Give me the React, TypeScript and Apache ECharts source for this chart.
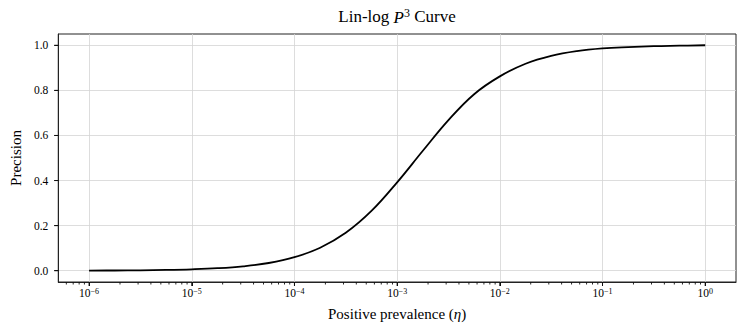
import React, { useEffect, useRef } from "react";
import * as echarts from "echarts";

// Positive prevalence (eta) values
const etaValues = [
  1e-6, 1.78e-6, 3.16e-6, 5.62e-6,
  1e-5, 1.78e-5, 3.16e-5, 5.62e-5,
  1e-4, 1.78e-4, 3.16e-4, 5.62e-4,
  1e-3, 1.78e-3, 3.16e-3, 5.62e-3,
  1e-2, 1.78e-2, 3.16e-2, 5.62e-2,
  1e-1, 0.178, 0.316, 0.562,
  1,
];
// Precision values
const precisionValues = [
  0.0006, 0.0011, 0.002, 0.0035,
  0.0063, 0.0111, 0.0196, 0.0343,
  0.06, 0.102, 0.168, 0.265,
  0.392, 0.532, 0.668, 0.783,
  0.862, 0.918, 0.953, 0.974,
  0.986, 0.992, 0.996, 0.998,
  1.0,
];

const xMajorTicks = [1e-6, 1e-5, 1e-4, 1e-3, 1e-2, 1e-1, 1];
const xMinorTicks: number[] = [6e-7, 7e-7, 8e-7, 9e-7];
for (const d of [1e-6, 1e-5, 1e-4, 1e-3, 1e-2, 1e-1]) {
  for (const m of [2, 3, 4, 5, 6, 7, 8, 9]) xMinorTicks.push(m * d);
}
const yTicks = [0, 0.2, 0.4, 0.6, 0.8, 1.0];
const yTickLabels = ["0.0", "0.2", "0.4", "0.6", "0.8", "1.0"];

const X_MIN = Math.pow(10, -6.3);
const X_MAX = Math.pow(10, 0.3);
const Y_MIN = -0.05;
const Y_MAX = 1.05;
const FONT = "'Liberation Serif', 'DejaVu Serif', serif";

export default function App() {
  const ref = useRef<HTMLDivElement>(null);
  useEffect(() => {
    if (!ref.current) return;
    const chart = echarts.init(ref.current, undefined, { renderer: "svg" });
    const supLabel = (v: number) => {
      const e = Math.round(Math.log10(v));
      const s = e < 0 ? "\u2212" + -e : String(e);
      return `{b|10}{s|${s}}`;
    };
    // kind: 0 = major x tick, 1 = minor x tick, 2 = y tick
    const tickData: number[][] = [
      ...xMajorTicks.map((v) => [v, Y_MIN, 0]),
      ...xMinorTicks.map((v) => [v, Y_MIN, 1]),
      ...yTicks.map((v) => [X_MIN, v, 2]),
    ];
    chart.setOption({
      animation: false,
      backgroundColor: "#ffffff",
      title: {
        text: "Lin-log {i|P}{s|3} Curve",
        left: 397,
        top: 7,
        padding: 0,
        textAlign: "center",
        textStyle: {
          fontFamily: FONT,
          fontSize: 17,
          fontWeight: "normal",
          color: "#000",
          rich: {
            i: { fontFamily: FONT, fontSize: 17, fontStyle: "italic", color: "#000", verticalAlign: "bottom" },
            s: { fontFamily: FONT, fontSize: 12, color: "#000", padding: [0, 0, 7, 0], verticalAlign: "bottom" },
          },
        },
      },
      grid: {
        left: 58,
        right: 11,
        top: 34,
        bottom: 52,
        show: true,
        borderColor: "#222",
        borderWidth: 1,
        backgroundColor: "transparent",
      },
      xAxis: {
        type: "log",
        logBase: 10,
        min: X_MIN,
        max: X_MAX,
        name: "Positive prevalence ({i|\u03b7})",
        nameLocation: "middle",
        nameGap: 24,
        nameTextStyle: {
          fontFamily: FONT,
          fontSize: 15,
          color: "#000",
          rich: { i: { fontFamily: FONT, fontSize: 15, fontStyle: "italic", color: "#000" } },
        },
        axisLine: { show: true, onZero: false, lineStyle: { color: "#222", width: 1 } },
        axisTick: { show: true, customValues: xMajorTicks, length: 4, lineStyle: { color: "#111", width: 1 } },
        axisLabel: {
          customValues: xMajorTicks,
          margin: 5,
          formatter: supLabel,
          rich: {
            b: { fontFamily: FONT, fontSize: 11.5, color: "#000", verticalAlign: "bottom" },
            s: { fontFamily: FONT, fontSize: 8, color: "#000", padding: [0, 0, 4, 0], verticalAlign: "bottom" },
          },
        },
        splitLine: { show: true, lineStyle: { color: "#d4d4d4", width: 0.8 } },
      },
      yAxis: {
        type: "value",
        min: Y_MIN,
        max: Y_MAX,
        name: "Precision",
        nameLocation: "middle",
        nameGap: 34,
        nameTextStyle: { fontFamily: FONT, fontSize: 15, color: "#000" },
        axisLine: { show: true, onZero: false, lineStyle: { color: "#222", width: 1 } },
        axisTick: { show: true, customValues: yTicks, length: 4, lineStyle: { color: "#111", width: 1 } },
        axisLabel: {
          customValues: yTicks,
          margin: 10,
          fontFamily: FONT,
          fontSize: 11.5,
          color: "#000",
          formatter: (v: number) => {
            const i = yTicks.findIndex((t) => Math.abs(t - v) < 1e-9);
            return i >= 0 ? yTickLabels[i] : "";
          },
        },
        splitLine: { show: true, lineStyle: { color: "#d4d4d4", width: 0.8 } },
      },
      series: [
        {
          type: "line",
          data: etaValues.map((x, i) => [x, precisionValues[i]]),
          showSymbol: false,
          smooth: 0.4,
          lineStyle: { color: "#000", width: 1.8 },
          z: 5,
        },
        {
          type: "custom",
          clip: false,
          silent: true,
          z: 10,
          data: tickData,
          renderItem: (_params: any, api: any) => {
            const kind = api.value(2);
            const p = api.coord([api.value(0), api.value(1)]);
            if (kind === 2) {
              return {
                type: "rect",
                shape: { x: p[0] - 4, y: p[1] - 0.5, width: 4, height: 1 },
                style: { fill: "#111" },
              };
            }
            const len = kind === 0 ? 4 : 2.5;
            const w = kind === 0 ? 1 : 0.9;
            return {
              type: "rect",
              shape: { x: p[0] - w / 2, y: p[1], width: w, height: len },
              style: { fill: "#111" },
            };
          },
        },
      ],
    });
    return () => chart.dispose();
  }, []);
  return (
    <div
      ref={ref}
      style={{ position: "fixed", left: 0, top: 0, width: 747, height: 334 }}
    />
  );
}
